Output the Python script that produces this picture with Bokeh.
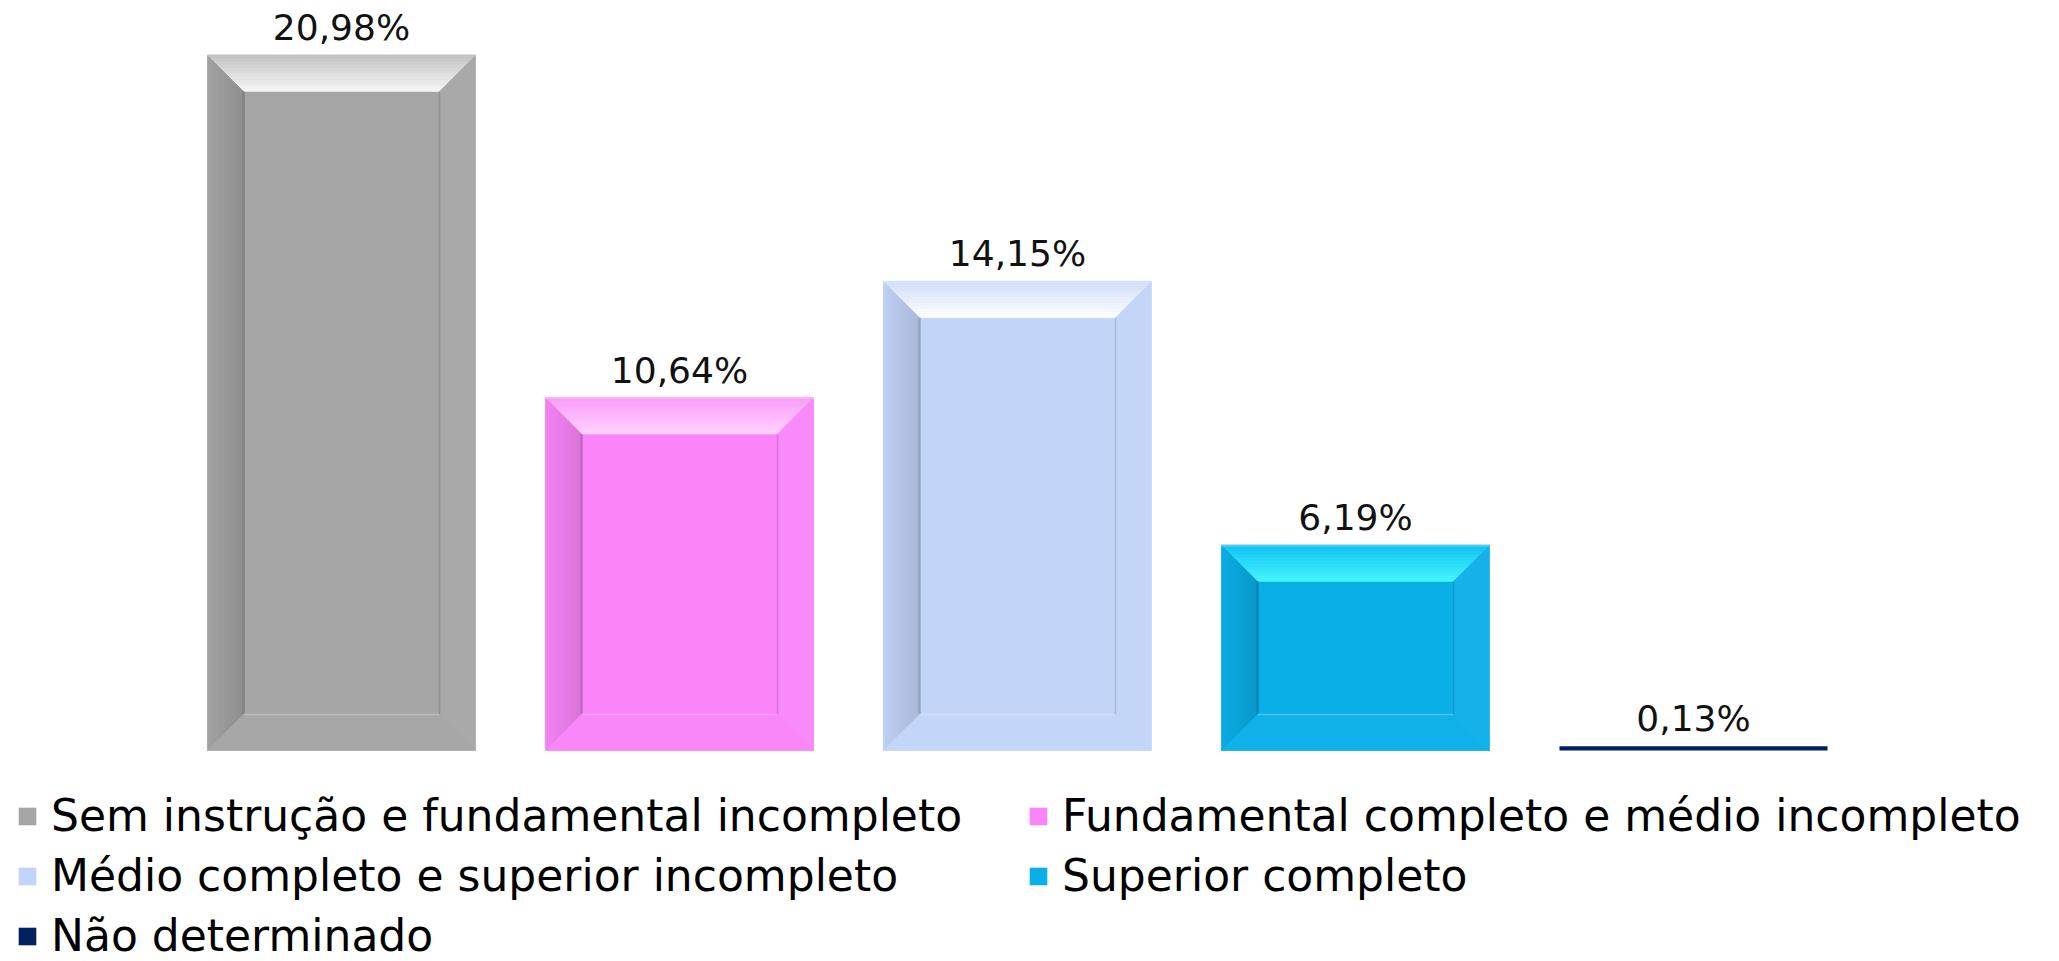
from bokeh.plotting import figure
from bokeh.models import ColumnDataSource, Range1d, Legend, LegendItem
from bokeh.core.properties import value
from bokeh.embed import file_html
from bokeh.resources import INLINE

categories = ["Sem instrução e fundamental incompleto",
              "Fundamental completo e médio incompleto",
              "Médio completo e superior incompleto",
              "Superior completo",
              "Não determinado"]
values = [20.98, 10.64, 14.15, 6.19, 0.13]
labels = ["20,98%", "10,64%", "14,15%", "6,19%", "0,13%"]
colors = ["#A5A5A5", "#F985F9", "#C2D4F8", "#0BAFE8", "#002060"]
top_outer = ["#C4C4C4", "#F99CF9", "#D0DEF9", "#12C2F2"]
top_inner = ["#F7F7F7", "#FFD2FF", "#FFFFFF", "#48F6FF"]

FONT = "DejaVu Sans"
BAR_W = 0.793
BX = 36 / 338.0          # bevel width in x units
BY = 36 / 33.127         # bevel height in value units
N = 12


def hx(c):
    c = c.lstrip("#")
    return [int(c[k:k + 2], 16) for k in (0, 2, 4)]


def mix(c1, c2, t):
    a, b = hx(c1), hx(c2)
    return "#%02x%02x%02x" % tuple(int(round(a[k] + (b[k] - a[k]) * t)) for k in range(3))


xs_idx = list(range(len(categories)))
src = ColumnDataSource(dict(x=xs_idx, top=values, color=colors, cat=categories, label=labels))

p = figure(width=2050, height=961,
           x_range=Range1d(-1.00888, 5.05621), y_range=Range1d(-6.3694, 22.640),
           output_backend="svg", toolbar_location=None, min_border=0,
           x_axis_location=None, y_axis_location=None)
p.grid.visible = False
p.outline_line_color = None
p.background_fill_color = "white"

bars = p.vbar(x="x", top="top", width=BAR_W, bottom=0, fill_color="color", line_color=None, source=src)

# bevel overlays, derived from the bar values
pxs, pys, pcs = [], [], []
lx0, lx1, ly0, ly1, lc, lw = [], [], [], [], [], []
for i, v in enumerate(values):
    if v < 3 * BY:
        continue
    L, R, T, B = i - BAR_W / 2, i + BAR_W / 2, v, 0.0
    base = colors[i]
    # top bevel gradient
    for k in range(N):
        t0, t1 = k / N, (k + 1) / N
        pxs.append([L + t0 * BX, R - t0 * BX, R - t1 * BX, L + t1 * BX])
        pys.append([T - t0 * BY, T - t0 * BY, T - t1 * BY, T - t1 * BY])
        pcs.append(mix(top_outer[i], top_inner[i], (k + 0.5) / N))
    # left bevel gradient
    lo, li = mix(base, "#000000", 0.02), mix(base, "#000000", 0.13)
    for k in range(N):
        t0, t1 = k / N, (k + 1) / N
        pxs.append([L + t0 * BX, L + t1 * BX, L + t1 * BX, L + t0 * BX])
        pys.append([T - t0 * BY, T - t1 * BY, B + t1 * BY, B + t0 * BY])
        pcs.append(mix(lo, li, (k + 0.5) / N))
    # right bevel
    pxs.append([R, R, R - BX, R - BX])
    pys.append([T, B, B + BY, T - BY])
    pcs.append(mix(base, "#ffffff", 0.04))
    # bottom bevel
    pxs.append([L, R, R - BX, L + BX])
    pys.append([B, B, B + BY, B + BY])
    pcs.append(mix(base, "#ffffff", 0.02))
    # inner edges
    lx0 += [L + BX, R - BX, L + BX, L]
    lx1 += [L + BX, R - BX, R - BX, R]
    ly0 += [T - BY, T - BY, B + BY, T]
    ly1 += [B + BY, B + BY, B + BY, T]
    lc += [mix(base, "#000000", 0.22), mix(base, "#000000", 0.12),
           mix(base, "#ffffff", 0.25), mix(base, "#ffffff", 0.35)]
    lw += [2.5, 1.5, 1.5, 2]

p.patches(xs=pxs, ys=pys, fill_color=pcs, line_color=pcs, line_width=0.6)
p.segment(x0=lx0, y0=ly0, x1=lx1, y1=ly1, line_color=lc, line_width=lw)

p.text(x="x", y="top", text="label", source=src, text_align="center", text_baseline="alphabetic",
       y_offset=-28, text_font=value(FONT), text_font_size="36px", text_color="#111111")

legend = Legend(items=[LegendItem(label=c, renderers=[bars], index=i) for i, c in enumerate(categories)],
                orientation="horizontal", ncols=2, location=(16, 0),
                glyph_width=22, glyph_height=22, label_standoff=13, spacing=9,
                padding=0, margin=0, border_line_color=None, background_fill_alpha=0,
                label_text_font=FONT, label_text_font_size="44px", label_text_color="#000000",
                label_height=22, label_width=967)
p.add_layout(legend)

open("out.html", "w").write(file_html(p, INLINE))
